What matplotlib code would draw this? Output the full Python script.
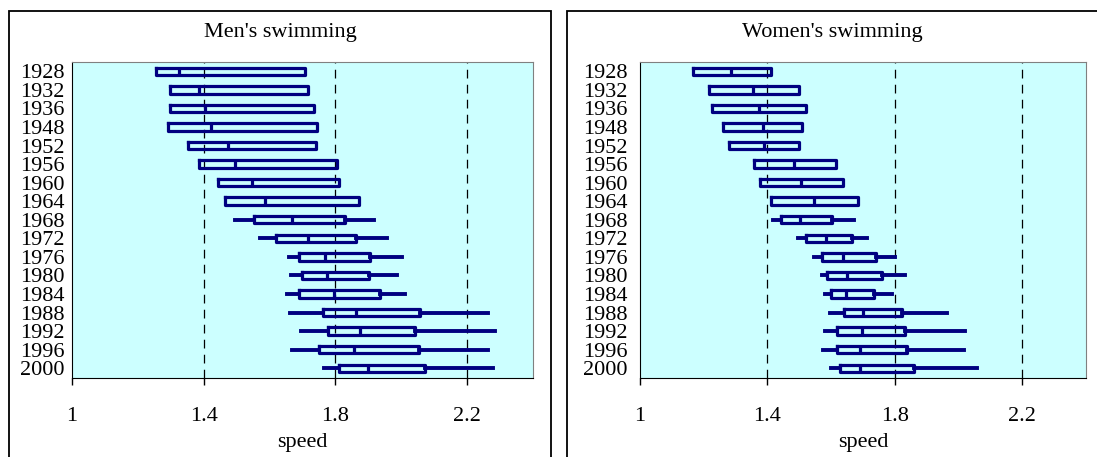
import matplotlib
matplotlib.use("Agg")
import matplotlib.pyplot as plt
from matplotlib.patches import Rectangle

plt.rcParams['font.family'] = ['Liberation Serif', 'DejaVu Serif']

years = ['1928', '1932', '1936', '1948', '1952', '1956', '1960', '1964', '1968',
         '1972', '1976', '1980', '1984', '1988', '1992', '1996', '2000']

# men's speeds (m/s): lower whisker, q1, median, q3, upper whisker
men_lo  = [1.256, 1.299, 1.298, 1.293, 1.351, 1.387, 1.442, 1.466, 1.496,
           1.570, 1.658, 1.665, 1.652, 1.662, 1.694, 1.669, 1.766]
men_q1  = [1.256, 1.299, 1.298, 1.293, 1.351, 1.387, 1.442, 1.466, 1.552,
           1.619, 1.690, 1.697, 1.690, 1.761, 1.776, 1.751, 1.811]
men_med = [1.325, 1.386, 1.404, 1.421, 1.475, 1.494, 1.548, 1.585, 1.669,
           1.718, 1.767, 1.773, 1.796, 1.863, 1.874, 1.857, 1.898]
men_q3  = [1.707, 1.718, 1.736, 1.744, 1.741, 1.805, 1.812, 1.873, 1.828,
           1.863, 1.906, 1.902, 1.935, 2.056, 2.041, 2.053, 2.073]
men_hi  = [1.707, 1.718, 1.736, 1.744, 1.741, 1.805, 1.812, 1.873, 1.918,
           1.956, 2.003, 1.988, 2.012, 2.262, 2.286, 2.262, 2.278]

# women's speeds
wom_lo  = [1.167, 1.217, 1.225, 1.259, 1.279, 1.357, 1.376, 1.411, 1.416,
           1.496, 1.545, 1.570, 1.582, 1.597, 1.581, 1.573, 1.599]
wom_q1  = [1.167, 1.217, 1.225, 1.259, 1.279, 1.357, 1.376, 1.411, 1.444,
           1.521, 1.572, 1.588, 1.599, 1.640, 1.618, 1.617, 1.627]
wom_med = [1.287, 1.356, 1.373, 1.385, 1.389, 1.484, 1.505, 1.547, 1.503,
           1.583, 1.638, 1.649, 1.648, 1.700, 1.696, 1.692, 1.692]
wom_q3  = [1.411, 1.498, 1.521, 1.510, 1.499, 1.615, 1.636, 1.683, 1.602,
           1.665, 1.740, 1.759, 1.735, 1.822, 1.833, 1.837, 1.860]
wom_hi  = [1.411, 1.498, 1.521, 1.510, 1.499, 1.615, 1.636, 1.683, 1.671,
           1.711, 1.801, 1.831, 1.791, 1.965, 2.021, 2.016, 2.059]

xticks = [1, 1.4, 1.8, 2.2]
NAVY = '#000080'
W, H = 1097, 457

fig = plt.figure(figsize=(W / 100, H / 100), dpi=100)

def fx(px):
    return px / W

def fy(px):
    return 1 - px / H

# outer frames round each panel
fig.patches.append(Rectangle((fx(9), fy(470)), fx(541.5), 459 / H, transform=fig.transFigure,
                             fill=False, ec='black', lw=1.3, clip_on=False))
fig.patches.append(Rectangle((fx(567), fy(470)), fx(560), 459 / H, transform=fig.transFigure,
                             fill=False, ec='black', lw=1.3, clip_on=False))


def panel(left, right, title, title_x, ypad, lo, q1, med, q3, hi):
    ax = fig.add_axes([fx(left), fy(377.5), fx(right - left), 315.5 / H])
    ax.set_facecolor('#CCFFFF')
    stats = [dict(whislo=a, q1=b, med=c, q3=d, whishi=e)
             for a, b, c, d, e in zip(lo, q1, med, q3, hi)]
    ax.bxp(stats, positions=range(len(years)), widths=0.4, orientation='horizontal',
           showcaps=False, showfliers=False,
           boxprops=dict(color=NAVY, lw=2.3),
           medianprops=dict(color=NAVY, lw=2.3),
           whiskerprops=dict(color=NAVY, lw=2.8))
    for v in xticks[1:]:
        ax.axvline(v, color='black', lw=0.9, ls=(0, (7, 5)), zorder=0.5)
    ax.set_xlim(1, 2.4)
    ax.set_ylim(len(years) - 0.5, -0.5)
    ax.set_xticks(xticks)
    ax.set_xticklabels(['1', '1.4', '1.8', '2.2'])
    ax.set_yticks(range(len(years)))
    ax.set_yticklabels(years)
    ax.tick_params(axis='x', direction='out', length=5, width=1, pad=16, labelsize=16)
    ax.tick_params(axis='y', length=0, pad=ypad, labelsize=16)
    for s in ('top', 'right'):
        ax.spines[s].set_color('#808080')
    ax.spines['bottom'].set_color('black')
    ax.spines['left'].set_color('black')
    ax.set_xlabel('speed', fontsize=16, labelpad=5)
    fig.text(fx(title_x), fy(32), title, ha='center', va='center', fontsize=16)
    return ax


panel(72, 533, "Men's swimming", 280, 5.5, men_lo, men_q1, men_med, men_q3, men_hi)
panel(640, 1086, "Women's swimming", 832, 9, wom_lo, wom_q1, wom_med, wom_q3, wom_hi)

fig.savefig('out.png', dpi=100)
